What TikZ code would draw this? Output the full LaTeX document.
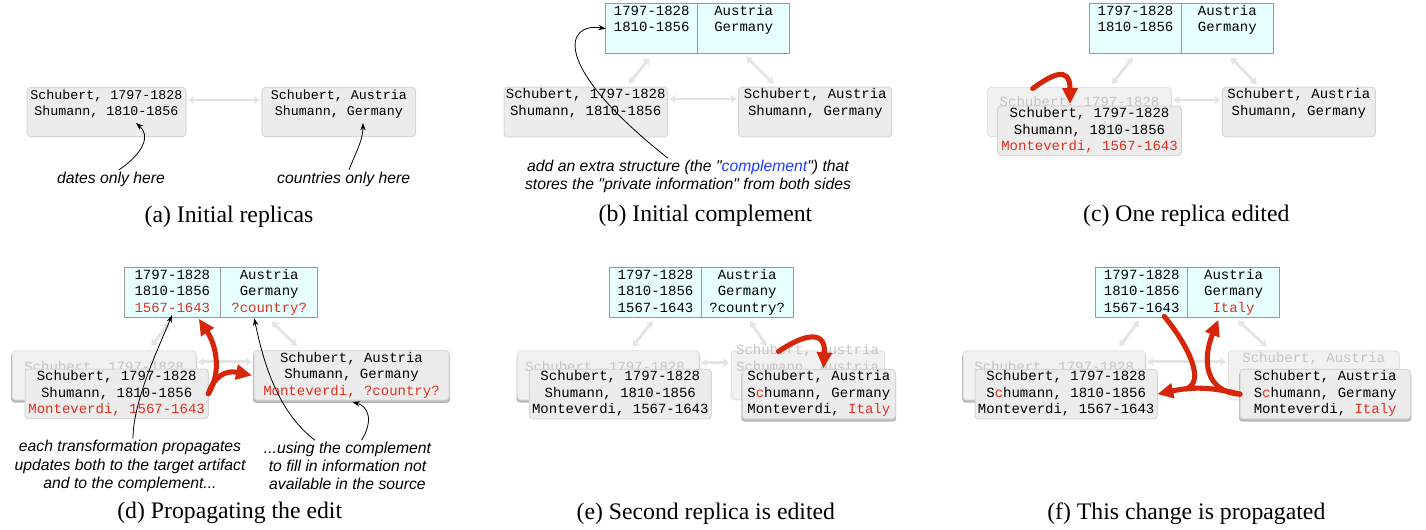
\documentclass[tikz,border=0pt]{standalone}
\usepackage{fontspec}
\setmainfont{Liberation Serif}
\setsansfont{Liberation Sans}
\setmonofont{Liberation Mono}
\usetikzlibrary{positioning,calc,arrows.meta,shadows}

\definecolor{boxfill}{RGB}{236,236,236}
\definecolor{boxline}{RGB}{214,214,214}
\definecolor{oldfill}{RGB}{241,241,241}
\definecolor{oldline}{RGB}{226,226,226}
\definecolor{oldtext}{RGB}{196,196,196}
\definecolor{compfill}{RGB}{232,255,255}
\definecolor{compline}{RGB}{153,153,153}
\definecolor{syncgray}{RGB}{228,228,228}
\definecolor{editred}{RGB}{214,38,10}
\definecolor{redtext}{RGB}{224,48,30}
\definecolor{noteblue}{RGB}{30,60,255}

\newcommand\replfont{\ttfamily\fontsize{10.5}{12.4}\selectfont}
\newcommand\notefont{\sffamily\itshape\fontsize{11.8}{13.6}\selectfont}
\newcommand\capfont{\rmfamily\fontsize{17.8}{21}\selectfont}
\newcommand\trio[3]{\strut#1\\\strut#2\\\strut#3}
\newcommand\chg[1]{\textcolor{redtext}{#1}}

\tikzset{every picture/.style={line width=0.75pt},
  boxw/.style={minimum width=#1*0.75pt},
  boxh/.style={minimum height=#1*0.75pt},
  replica/.style={draw=boxline, fill=boxfill, rounded corners=2.5pt, align=center, inner sep=0pt, outer sep=0pt, boxh=49, font=\replfont},
  oldreplica/.style={draw=oldline, fill=oldfill, rounded corners=2.5pt, inner sep=0pt, outer sep=0pt, boxh=49},
  compcell/.style={draw=compline, fill=compfill, align=center, inner sep=0pt, outer sep=0pt, boxh=50, font=\replfont},
  fadedtext/.style={text=oldtext, inner sep=0pt, font=\replfont},
  sync/.style={draw=syncgray, line width=2.2pt, {Stealth[length=5pt,width=6.5pt]}-{Stealth[length=5pt,width=6.5pt]}, shorten <=1.5pt, shorten >=1.5pt},
  edit/.style={draw=editred, line width=3.8pt, line cap=round, -{Triangle[length=12pt,width=11pt]}},
  editline/.style={draw=editred, line width=3.8pt, line cap=round},
  pointer/.style={-{Stealth[length=5.5pt,width=4pt]}, line width=0.6pt},
  note/.style={font=\notefont, align=center, inner sep=1pt},
  caption/.style={font=\capfont, inner sep=0pt},
  shadowed/.style={drop shadow={shadow xshift=0pt, shadow yshift=-1.8pt, shadow scale=1.012, opacity=0.4, fill=black!70}}
}

\begin{document}
\begin{tikzpicture}[x=0.75pt,y=0.75pt,yscale=-1,xscale=1]
    \useasboundingbox (0,0) rectangle (1426,529);

    %(a) Initial replicas
    \node[replica, boxw=159, font=\ttfamily\fontsize{10}{12}\selectfont] (aL) at (106.5,112) {\trio{Schubert, 1797-1828}{Shumann, 1810-1856}{}};
    \node[replica, boxw=153.7, font=\ttfamily\fontsize{10}{12}\selectfont] (aR) at (338.8,112) {\trio{Schubert, Austria}{Shumann, Germany}{}};
    \draw[sync] ($(aL.east)+(0,-12)$) -- ($(aR.west)+(0,-12)$);
    % Text Node
    \node[note] (aNoteL) at (111,179) {dates only here};
    % Text Node
    \node[note] (aNoteR) at (343.7,179) {countries only here};
    \draw[pointer] ($(aNoteL.north)+(8,0)$) .. controls (145,152) and (150,135) .. ($(aL.south)+(29.5,-13.5)$);
    \draw[pointer] ($(aNoteR.north)+(5.3,0)$) .. controls (356,152) and (363,140) .. ($(aR.south)+(24.2,-13.5)$);
    \node[caption] (aCap) at (229,216.7) {(a) Initial replicas};

    %(b) Initial complement
    \node[compcell, boxw=92, boxh=49.3] (bCL) at (651.7,28.65) {\trio{1797-1828}{1810-1856}{}};
    \node[compcell, boxw=92, boxh=49.3, right=0pt of bCL] (bCR) {\trio{Austria}{Germany}{}};
    \node[replica, boxw=163.3] (bL) at (585.7,112) {\trio{Schubert, 1797-1828}{Shumann, 1810-1856}{}};
    \node[replica, boxw=153] (bR) at (815.2,112) {\trio{Schubert, Austria}{Shumann, Germany}{}};
    \draw[sync] ($(bL.east)+(0,-13)$) -- ($(bR.west)+(0,-13)$);
    \draw[sync] ($(bL.north)+(42,-2)$) -- ($(bCL.south)+(-1,3)$);
    \draw[sync] ($(bCR.south)+(1,2)$) -- ($(bR.north)+(-40,-2)$);
    % Text Node
    \node[note] (bNote) at (688,176.5) {add an extra structure (the \textquotedbl\textcolor{noteblue}{complement}\textquotedbl) that\\stores the \textquotedbl private information\textquotedbl\ from both sides};
    \draw[pointer] ($(bNote.north)+(-20,0)$) .. controls (550,65) and (565,22) .. (bCL.west);
    \node[caption] (bCap) at (705.5,216) {(b) Initial complement};

    %(c) One replica edited
    \node[compcell, boxw=91.6, boxh=49.3] (cCL) at (1135.5,28.65) {\trio{1797-1828}{1810-1856}{}};
    \node[compcell, boxw=92, boxh=49.3, right=0pt of cCL] (cCR) {\trio{Austria}{Germany}{}};
    \node[oldreplica, boxw=183.6] (cOld) at (1079.5,112) {};
    \node[fadedtext] (cOldTxt) at (1079.5,103) {Schubert, 1797-1828};
    \node[replica, boxw=183.6] (cNew) at (1089.5,130.85) {\trio{Schubert, 1797-1828}{Shumann, 1810-1856}{\chg{Monteverdi, 1567-1643}}};
    \node[replica, boxw=153] (cR) at (1298.8,112) {\trio{Schubert, Austria}{Shumann, Germany}{}};
    \draw[sync] ($(cOld.east)+(0,-12)$) -- ($(cR.west)+(0,-12)$);
    \draw[sync] ($(cOld.north)+(31,-1.5)$) -- ($(cCL.south)+(-1.5,2.5)$);
    \draw[sync] ($(cCR.south)+(2,2.5)$) -- ($(cR.north)+(-40.5,-1.5)$);
    \coordinate (cEdit) at (1032.7,88.5);
    \draw[edit] (cEdit) .. controls (1050,76) and (1070,64) .. ($(cNew.north)+(-19.5,-2)$);
    \node[caption] (cCap) at (1186.3,216) {(c) One replica edited};

    %(d) Propagating the edit
    \node[compcell, boxw=96.7] (dCL) at (172.35,292.3) {\trio{1797-1828}{1810-1856}{\chg{1567-1643}}};
    \node[compcell, boxw=97, right=0pt of dCL] (dCR) {\trio{Austria}{Germany}{\chg{?country?}}};
    \node[oldreplica, shadowed, boxw=183.7] (dOld) at (104.15,375.35) {};
    \node[fadedtext] (dOldTxt) at (104.15,368) {Schubert, 1797-1828};
    \node[replica, boxw=183.3] (dNew) at (116.65,393.8) {\trio{Schubert, 1797-1828}{Shumann, 1810-1856}{\chg{Monteverdi, 1567-1643}}};
    \node[replica, shadowed, boxw=195] (dR) at (351.5,375.35) {\trio{Schubert, Austria}{Shumann, Germany}{\chg{Monteverdi, ?country?}}};
    \draw[sync] ($(dOld.east)+(0,-13.5)$) -- ($(dR.west)+(0,-13.5)$);
    \draw[sync] ($(dOld.north)+(46,-3)$) -- ($(dCL.south)+(-2,4)$);
    \draw[sync] ($(dCR.south)+(1,3)$) -- ($(dR.north)+(-53,-3)$);
    \draw[edit] (dNew.east) .. controls (222,372) and (216,345) .. ($(dCL.south)+(26.5,1.5)$);
    \draw[edit] (dNew.east) .. controls (214,376) and (226,370) .. ($(dR.west)+(-2,0)$);
    % Text Node
    \node[note] (dNoteL) at (130,466) {each transformation propagates\\updates both to the target artifact\\and to the complement...};
    % Text Node
    \node[note] (dNoteR) at (347.5,466) {...using the complement\\to fill in information not\\available in the source};
    \draw[pointer] ($(dNoteL.north)+(3,0)$) .. controls (133,400) and (160,345) .. ($(dCL.south)+(-0.5,-2)$);
    \draw[pointer] ($(dNoteR.north)+(-32.5,0)$) .. controls (275,410) and (262,355) .. ($(dCR.south)+(-15,1)$);
    \draw[pointer] ($(dNoteR.north)+(14,0)$) .. controls (374,420) and (368,406) .. ($(dR.south)+(1,2)$);
    \node[caption] (dCap) at (229.7,513.3) {(d) Propagating the edit};

    %(e) Second replica is edited
    \node[compcell, boxw=91.6] (eCL) at (655.5,292.3) {\trio{1797-1828}{1810-1856}{1567-1643}};
    \node[compcell, boxw=91.7, right=0pt of eCL] (eCR) {\trio{Austria}{Germany}{?country?}};
    \node[oldreplica, shadowed, boxw=181.3] (eOldL) at (608.35,375.35) {};
    \node[fadedtext] (eOldLTxt) at (605,368) {Schubert, 1797-1828};
    \node[replica, boxw=182] (eNewL) at (620.3,394.15) {\trio{Schubert, 1797-1828}{Shumann, 1810-1856}{Monteverdi, 1567-1643}};
    \node[oldreplica, boxw=153.4] (eOldR) at (808,375.35) {};
    \draw[sync] ($(eOldL.east)+(0,-12.5)$) -- ($(eOldR.west)+(0,-12.5)$);
    \draw[sync] ($(eOldL.north)+(23,-2.5)$) -- ($(eCL.south)+(-1.5,2)$);
    \draw[sync] ($(eCR.south)+(2,2)$) -- ($(eOldR.north)+(-40.5,-3)$);
    \node[fadedtext, align=center] (eOldRTxt) at (807.5,359) {Schubert, Austria\\Schumann, Austria};
    \node[replica, shadowed, boxw=153] (eNewR) at (818.8,394.15) {\trio{Schubert, Austria}{S\chg{c}humann, Germany}{Monteverdi, \chg{Italy}}};
    \coordinate (eEdit) at (778.5,351.5);
    \draw[edit] (eEdit) .. controls (798,338) and (826,326) .. ($(eNewR.north)+(4.7,-1)$);
    \node[caption] (eCap) at (705.8,513.3) {(e) Second replica is edited};

    %(f) This change is propagated
    \node[compcell, boxw=92] (fCL) at (1141.7,292.3) {\trio{1797-1828}{1810-1856}{1567-1643}};
    \node[compcell, boxw=91.6, right=0pt of fCL] (fCR) {\trio{Austria}{Germany}{\chg{Italy}}};
    \node[oldreplica, shadowed, boxw=181.7] (fOldL) at (1054.15,375.35) {};
    \node[fadedtext] (fOldLTxt) at (1054.15,368) {Schubert, 1797-1828};
    \node[replica, boxw=182.3] (fNewL) at (1066.15,394.15) {\trio{Schubert, 1797-1828}{S\chg{c}humann, 1810-1856}{Monteverdi, 1567-1643}};
    \node[oldreplica, boxw=171] (fOldR) at (1313.8,375.35) {};
    \node[fadedtext] (fOldRTxt) at (1313.8,359) {Schubert, Austria};
    \node[replica, shadowed, boxw=170.3] (fNewR) at (1325.15,394.15) {\trio{Schubert, Austria}{S\chg{c}humann, Germany}{Monteverdi, \chg{Italy}}};
    \draw[sync] ($(fOldL.east)+(0,-13.5)$) -- ($(fOldR.west)+(0,-13.5)$);
    \draw[sync] ($(fOldL.north)+(64,-2.5)$) -- ($(fCL.south)+(-1.7,2)$);
    \draw[sync] ($(fCR.south)+(3,2)$) -- ($(fOldR.north)+(-45.5,-2.7)$);
    \coordinate (fJoin) at (1186,389);
    \draw[editline] ($(fCL.south)+(22.5,-1)$) .. controls (1188,345) and (1206,382) .. (fJoin);
    \draw[edit] (fNewR.west) .. controls (1205,392) and (1202,360) .. ($(fCR.south)+(-15.2,2.5)$);
    \draw[edit] (fNewR.west) .. controls (1215,388) and (1195,386) .. (fNewL.east);
    \node[caption] (fCap) at (1186.3,513.3) {(f) This change is propagated};

\end{tikzpicture}
\end{document}
